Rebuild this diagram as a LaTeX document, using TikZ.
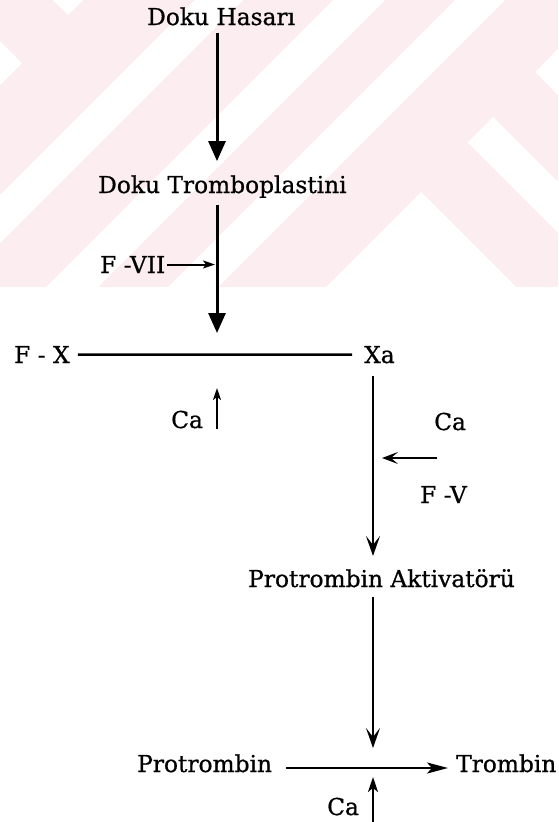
\documentclass[tikz,border=0pt]{standalone}
\usepackage{fontspec}
\setmainfont{DejaVu Serif}[RawFeature={embolden=0.8}]
\usetikzlibrary{arrows.meta}
\definecolor{wmpink}{RGB}{252,237,240}
\begin{document}
\begin{tikzpicture}[x=1pt,y=-1pt,
  lbl/.style={inner sep=0pt, anchor=base west, font=\fontsize{23.3}{28}\selectfont},
  heavy/.style={line width=3pt, -{Triangle[length=20pt,width=17pt]}},
  barbed/.style={line width=2.6pt, -{Stealth[length=20pt,width=14pt,inset=9pt]}},
  lightarr/.style={line width=1.8pt, -{Stealth[length=16pt,width=12pt,inset=7pt]}},
  catalyst/.style={line width=2pt, -{Stealth[length=12pt,width=8pt,inset=3pt]}},
  flow/.style={line width=2.5pt, -{Stealth[length=21pt,width=11pt,inset=5pt]}},
  bar/.style={line width=2.5pt}]
\useasboundingbox (0,0) rectangle (558,822);

% faint background pattern across the upper part of the page
\begin{scope}
  \clip (0,0) rectangle (558,287);
  \fill[wmpink] (0,0) rectangle (558,287);
  \fill[white] (53,0) -- (68,15) -- (83,0) -- cycle;
  \fill[white] (0,41) -- (22,63) -- (0,85) -- cycle;
  \fill[white] (195,0) -- (243,0) -- (0,243) -- (0,195) -- cycle;
  \fill[white] (333,0) -- (385,0) -- (0,385) -- (0,333) -- cycle;
  \fill[white] (455,0) -- (505,0) -- (0,505) -- (0,455) -- cycle;
  \fill[white] (493,117) -- (663,287) -- (612,287) -- (467.5,142.5) -- cycle;
  \fill[white] (560.5,46.5) -- (801,287) -- (750,287) -- (535,72) -- cycle;
  \fill[white] (421,192) -- (516,287) -- (326,287) -- cycle;
\end{scope}

% labels
\node[lbl] (hasar)   at (147,25)  {Doku Hasarı};
\node[lbl] (tromb)   at (98,193)  {Doku Tromboplastini};
\node[lbl] (fvii)    at (100,273) {F -VII};
\node[lbl] (fx)      at (14,363)  {F - X};
\node[lbl] (xa)      at (364,363) {Xa};
\node[lbl] (caone)   at (171,428) {Ca};
\node[lbl] (catwo)   at (434,430) {Ca};
\node[lbl] (fv)      at (420,503) {F -V};
\node[lbl] (aktiv)   at (248,587) {Protrombin Aktivatörü};
\node[lbl] (protr)   at (137,772) {Protrombin};
\node[lbl] (trombin) at (456,772) {Trombin};
\node[lbl] (cathree) at (327,815) {Ca};

% reaction points
\coordinate (jx) at (217,354);
\coordinate (jv) at (373,458);
\coordinate (jp) at (373,768);
\coordinate (fvtail) at (437,458);
\coordinate (catail) at (373,822);

% connectors
\draw[heavy, shorten <=7pt, shorten >=14pt] (hasar.south -| jx) -- (tromb.north -| jx);
\draw[heavy, shorten <=6.5pt, shorten >=21pt] (tromb.south -| jx) -- (jx);
\draw[catalyst, shorten <=2pt, shorten >=2pt] (fvii.east) -- (fvii.east -| jx);
\draw[bar, shorten <=8pt, shorten >=12pt] (fx.east) -- (xa.west);
\draw[catalyst, shorten >=34pt] (caone.south -| jx) -- (jx);
\draw[barbed, shorten <=12pt, shorten >=13pt] (xa.south -| jv) -- (aktiv.north -| jv);
\draw[lightarr, shorten >=9pt] (fvtail) -- (jv);
\draw[barbed, shorten <=9pt, shorten >=20pt] (aktiv.south -| jp) -- (jp);
\draw[flow, shorten <=14pt, shorten >=8pt] (protr.east |- jp) -- (trombin.west |- jp);
\draw[catalyst, line width=2.2pt, -{Stealth[length=15pt,width=10pt,inset=4pt]}, shorten >=9pt] (catail) -- (jp);
\end{tikzpicture}
\end{document}
